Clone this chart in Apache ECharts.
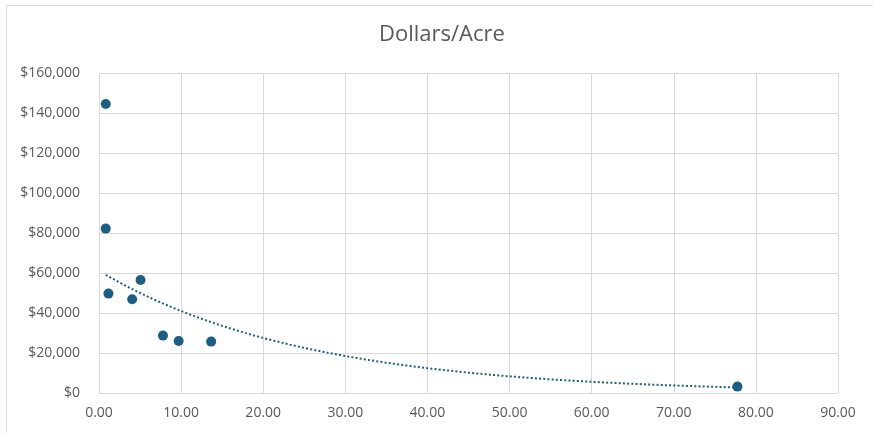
<!DOCTYPE html>
<html>
<head>
<meta charset="utf-8">
<script src="https://cdn.jsdelivr.net/npm/echarts@6/dist/echarts.min.js"></script>
<style>
  html, body { margin: 0; padding: 0; background: #fff; }
  #chart { width: 873px; height: 433px; }
</style>
</head>
<body>
<div id="chart"></div>
<script>
// Acreage vs. price per acre
const acres = [0.82, 0.82, 1.15, 5.06, 4.04, 7.79, 9.70, 13.66, 77.75];
const dollarsPerAcre = [144500, 82200, 49700, 56500, 46900, 28700, 26000, 25700, 3200];

const xTicks = { min: 0, max: 90, step: 10 };
const yTicks = { min: 0, max: 160000, step: 20000 };

const color = '#1D5F83';
const textColor = '#595959';
const gridColor = '#D9D9D9';
const font = '"Open Sans", "Liberation Sans", sans-serif';

// Exponential trendline y = a * e^(b x), least squares on ln(y)
function expFit(xs, ys) {
  const n = xs.length;
  const ly = ys.map(v => Math.log(v));
  const mx = xs.reduce((s, v) => s + v, 0) / n;
  const my = ly.reduce((s, v) => s + v, 0) / n;
  let sxx = 0, sxy = 0;
  for (let i = 0; i < n; i++) {
    sxx += (xs[i] - mx) * (xs[i] - mx);
    sxy += (xs[i] - mx) * (ly[i] - my);
  }
  const b = sxy / sxx;
  const a = Math.exp(my - b * mx);
  return x => a * Math.exp(b * x);
}
const fit = expFit(acres, dollarsPerAcre);
const xLo = Math.min(...acres), xHi = Math.max(...acres);
const trend = [];
for (let i = 0; i <= 120; i++) {
  const x = xLo + (xHi - xLo) * i / 120;
  trend.push([x, fit(x)]);
}

const chart = echarts.init(document.getElementById('chart'), null, { renderer: 'canvas' });
chart.setOption({
  animation: false,
  backgroundColor: '#fff',
  graphic: [{
    type: 'rect',
    shape: { x: 6.5, y: 5.5, width: 900, height: 460 },
    style: { fill: 'none', stroke: '#D9D9D9', lineWidth: 1 },
    silent: true
  }],
  title: {
    text: 'Dollars/Acre',
    left: 374,
    top: 19,
    textStyle: { fontFamily: font, fontSize: 22, fontWeight: 'normal', color: textColor }
  },
  grid: { left: 99, right: 35, top: 73, bottom: 40, containLabel: false },
  xAxis: {
    type: 'value',
    min: xTicks.min, max: xTicks.max, interval: xTicks.step,
    axisLine: { show: true, lineStyle: { color: gridColor, width: 1 } },
    axisTick: { show: false },
    splitLine: { show: true, lineStyle: { color: gridColor, width: 1 } },
    axisLabel: {
      margin: 13,
      fontFamily: font, fontSize: 14, color: textColor,
      formatter: v => v.toFixed(2)
    }
  },
  yAxis: {
    type: 'value',
    min: yTicks.min, max: yTicks.max, interval: yTicks.step,
    axisLine: { show: false },
    axisTick: { show: false },
    splitLine: { show: true, lineStyle: { color: gridColor, width: 1 } },
    axisLabel: {
      margin: 19,
      fontFamily: font, fontSize: 14, color: textColor,
      formatter: v => '$' + v.toLocaleString('en-US')
    }
  },
  series: [
    {
      type: 'line',
      data: trend,
      showSymbol: false,
      symbol: 'none',
      lineStyle: { color: color, width: 2, type: [2, 2.2], cap: 'butt' },
      z: 2,
      silent: true
    },
    {
      type: 'scatter',
      data: acres.map((x, i) => [x, dollarsPerAcre[i]]),
      symbol: 'circle',
      symbolSize: 10,
      itemStyle: { color: color, opacity: 1 },
      z: 3
    }
  ]
});
</script>
</body>
</html>
